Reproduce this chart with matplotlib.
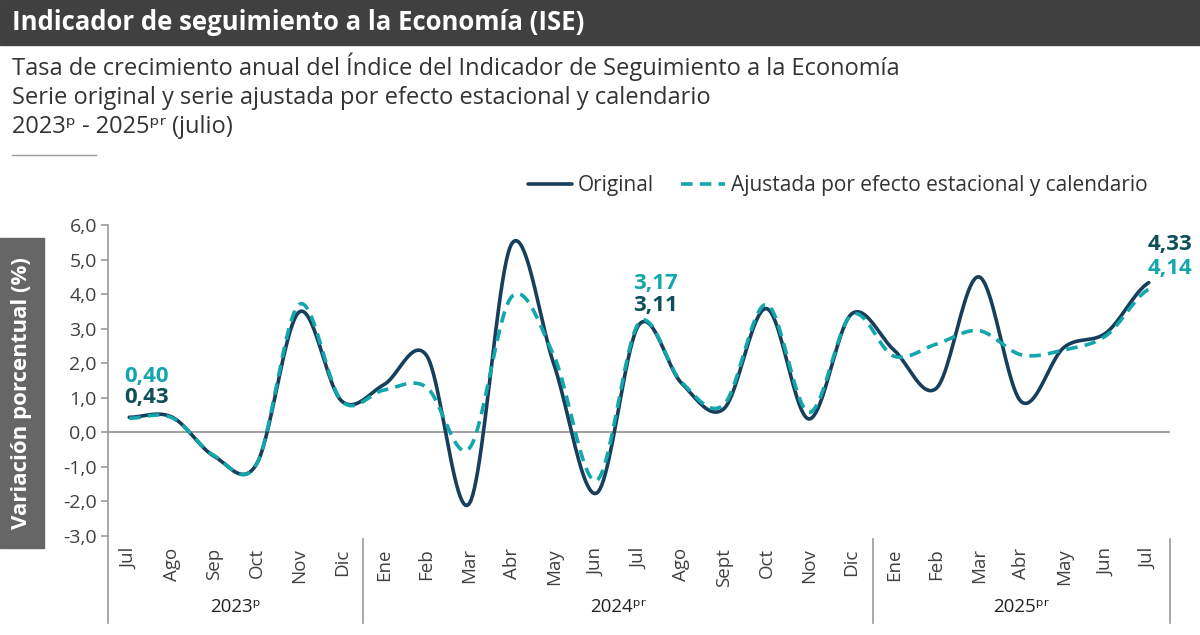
import numpy as np
import matplotlib
matplotlib.use("Agg")
import matplotlib.pyplot as plt
from matplotlib.patches import Rectangle
from matplotlib.lines import Line2D

plt.rcParams['font.family'] = ['Open Sans', 'DejaVu Sans']

# meses jul 2023 - jul 2025
months = ['Jul', 'Ago', 'Sep', 'Oct', 'Nov', 'Dic',
          'Ene', 'Feb', 'Mar', 'Abr', 'May', 'Jun', 'Jul', 'Ago', 'Sept', 'Oct', 'Nov', 'Dic',
          'Ene', 'Feb', 'Mar', 'Abr', 'May', 'Jun', 'Jul']
years = ['2023ᵖ', '2024ᵖʳ', '2025ᵖʳ']
year_bounds = [(-0.5, 5.5), (5.5, 17.5), (17.5, 24.5)]

original = [0.43, 0.44, -0.70, -0.92, 3.48, 0.90,
            1.38, 2.22, -2.08, 5.45, 1.95, -1.77, 3.11, 1.42, 0.68, 3.58, 0.38, 3.42,
            2.38, 1.27, 4.50, 0.88, 2.45, 2.88, 4.33]
ajustada = [0.40, 0.42, -0.68, -0.92, 3.70, 0.90,
            1.22, 1.30, -0.48, 3.92, 2.20, -1.40, 3.17, 1.45, 0.80, 3.70, 0.57, 3.40,
            2.20, 2.55, 2.94, 2.24, 2.38, 2.80, 4.14]

c_orig = '#173f5c'
c_adj = '#13a6ac'
c_lab = '#0d4f5a'
gray = '#9a9a9a'
txt = '#404040'


def smooth(y, n=24):
    # curva suavizada tipo Catmull-Rom (como "linea suavizada" de Excel)
    y = np.asarray(y, dtype=float)
    x = np.arange(len(y), dtype=float)
    xs, ys = [], []
    for i in range(len(y) - 1):
        p0 = y[max(i - 1, 0)]
        p1, p2 = y[i], y[i + 1]
        p3 = y[min(i + 2, len(y) - 1)]
        c1 = p1 + (p2 - p0) / 6
        c2 = p2 - (p3 - p1) / 6
        t = np.linspace(0, 1, n, endpoint=False)
        ys.append((1 - t) ** 3 * p1 + 3 * (1 - t) ** 2 * t * c1 + 3 * (1 - t) * t ** 2 * c2 + t ** 3 * p2)
        xs.append(x[i] + t)
    xs.append([x[-1]])
    ys.append([y[-1]])
    return np.concatenate(xs), np.concatenate(ys)


fig = plt.figure(figsize=(12, 6.35), dpi=100)
W, H = 1200, 635

# barra de titulo
fig.patches.append(Rectangle((0, 1 - 45 / H), 1, 45 / H, transform=fig.transFigure,
                             color='#404040', zorder=0))
fig.text(12 / W, 1 - 22 / H, 'Indicador de seguimiento a la Economía (ISE)', color='white',
         fontsize=18.5, fontweight='bold', va='center', ha='left')

subs = ['Tasa de crecimiento anual del Índice del Indicador de Seguimiento a la Economía',
        'Serie original y serie ajustada por efecto estacional y calendario',
        '2023ᵖ - 2025ᵖʳ (julio)']
for k, s in enumerate(subs):
    fig.text(12 / W, 1 - (75 + 29 * k) / H, s, color='#333333', fontsize=17,
             va='baseline', ha='left')
fig.add_artist(Line2D([12 / W, 96 / W], [1 - 155 / H, 1 - 155 / H], color=gray, lw=1,
                      transform=fig.transFigure))

# caja del eje y
fig.patches.append(Rectangle((0, 1 - 548 / H), 44 / W, 310 / H, transform=fig.transFigure,
                             color='#666666', zorder=0))
fig.text(22 / W, 1 - 393 / H, 'Variación porcentual (%)', rotation=90, color='white',
         fontsize=16, fontweight='bold', va='center', ha='center')

ax = fig.add_axes([108 / W, 1 - 535.7 / H, (1170 - 108) / W, (535.7 - 225) / H])
x = np.arange(len(months))
xs, ys = smooth(original)
ax.plot(xs, ys, color=c_orig, lw=2.6, solid_capstyle='round', zorder=3, label='Original')
xs, ys = smooth(ajustada)
ax.plot(xs, ys, color=c_adj, lw=2.6, dashes=(3.2, 2.0), zorder=4,
        label='Ajustada por efecto estacional y calendario')

ax.set_xlim(-0.5, 24.5)
ax.set_ylim(-3, 6)
ax.axhline(0, color=gray, lw=1.3, zorder=1)
for s in ['top', 'right', 'bottom']:
    ax.spines[s].set_visible(False)
ax.spines['left'].set_color(gray)
ax.spines['left'].set_linewidth(1.2)
ax.set_yticks(range(-3, 7))
ax.set_yticklabels([f'{v:.1f}'.replace('.', ',') for v in range(-3, 7)], fontsize=14, color=txt)
ax.tick_params(axis='y', direction='out', length=5, color=gray, width=1.2, pad=3)
ax.set_xticks(x)
ax.set_xticklabels(months, rotation=90, fontsize=13.5, color=txt, va='top')
ax.tick_params(axis='x', length=0, pad=9)

# lineas de agrupacion por año
tr = ax.get_xaxis_transform()
ax.plot([-0.5, -0.5], [0, -0.28], color=gray, lw=1.2, transform=tr, clip_on=False)
for (a, b), yl in zip(year_bounds, years):
    ax.plot([b, b], [-0.01, -0.28], color=gray, lw=1.2, transform=tr, clip_on=False)
    ax.text((a + b) / 2, -0.23, yl, transform=tr, ha='center', va='center', fontsize=13.5,
            color='#222222')

# etiquetas de datos
for i, dy_a, dy_o in [(0, 1.22, 0.56), (12, 1.13, 0.55)]:
    ax.text(x[i] + 0.4, ajustada[i] + dy_a, f'{ajustada[i]:.2f}'.replace('.', ','), color=c_adj,
            fontsize=16, fontweight='bold', ha='center', va='center')
    ax.text(x[i] + 0.4, original[i] + dy_o, f'{original[i]:.2f}'.replace('.', ','), color=c_lab,
            fontsize=16, fontweight='bold', ha='center', va='center')
ax.text(x[24] + 0.5, original[24] + 1.1, f'{original[24]:.2f}'.replace('.', ','), color=c_lab,
        fontsize=16, fontweight='bold', ha='center', va='center')
ax.text(x[24] + 0.5, ajustada[24] + 0.6, f'{ajustada[24]:.2f}'.replace('.', ','), color=c_adj,
        fontsize=16, fontweight='bold', ha='center', va='center')

fig.legend(loc='center', bbox_to_anchor=(838 / W, 1 - 186 / H), ncol=2, frameon=False,
           fontsize=15, handlelength=2.1, handletextpad=0.3, columnspacing=1.3,
           labelcolor='#333333')

fig.savefig('out.png', dpi=100)
